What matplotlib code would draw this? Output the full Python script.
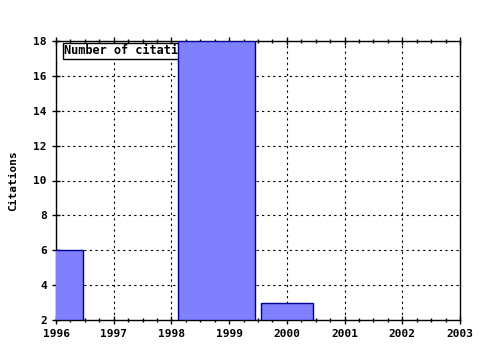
import matplotlib.pyplot as plt
from matplotlib.ticker import MultipleLocator

# Citation counts per year (bar spans)
years = [1996, 1999, 2000]
citations = [6, 18, 3]
bar_start = [1995.55, 1998.12, 1999.55]
bar_end = [1996.47, 1999.45, 2000.45]

x_ticks = [1996, 1997, 1998, 1999, 2000, 2001, 2002, 2003]
y_ticks = [2, 4, 6, 8, 10, 12, 14, 16, 18]
legend_label = 'Number of citations'

font = {'family': 'DejaVu Sans Mono', 'weight': 'bold', 'size': 8}

fig = plt.figure(figsize=(4.8, 3.5), dpi=100)
ax = fig.add_axes([56 / 480, 1 - 320 / 350, 404 / 480, 279 / 350])

widths = [e - s for s, e in zip(bar_start, bar_end)]
ax.bar(bar_start, [c - 2 for c in citations], width=widths, bottom=2, align='edge',
       color='#8080ff', edgecolor='#000090', linewidth=1, zorder=3)

ax.set_xlim(1996, 2003)
ax.set_ylim(2, 18)
ax.set_xticks(x_ticks)
ax.set_yticks(y_ticks)
ax.set_xticklabels([str(y) for y in x_ticks], fontdict=font)
ax.set_yticklabels([str(y) for y in y_ticks], fontdict=font)
ax.xaxis.set_minor_locator(MultipleLocator(0.25))
ax.tick_params(axis='x', which='both', top=True, direction='inout')
ax.tick_params(axis='y', which='both', direction='inout')
ax.tick_params(which='major', length=6, width=1)
ax.tick_params(which='minor', length=3, width=1)
ax.grid(True, which='major', color='black', linestyle=(0, (2, 3)), linewidth=0.8, zorder=1)
ax.set_axisbelow(True)
for s in ax.spines.values():
    s.set_linewidth(1)

ax.set_ylabel('Citations', fontdict=font, labelpad=11)

ax.text(1996.14, 17.45, legend_label, fontdict=dict(font, size=8.6), zorder=2, va='center',
        bbox=dict(facecolor='white', edgecolor='black', linewidth=1, boxstyle='square,pad=0.12'))

plt.savefig('out.png', dpi=100)
